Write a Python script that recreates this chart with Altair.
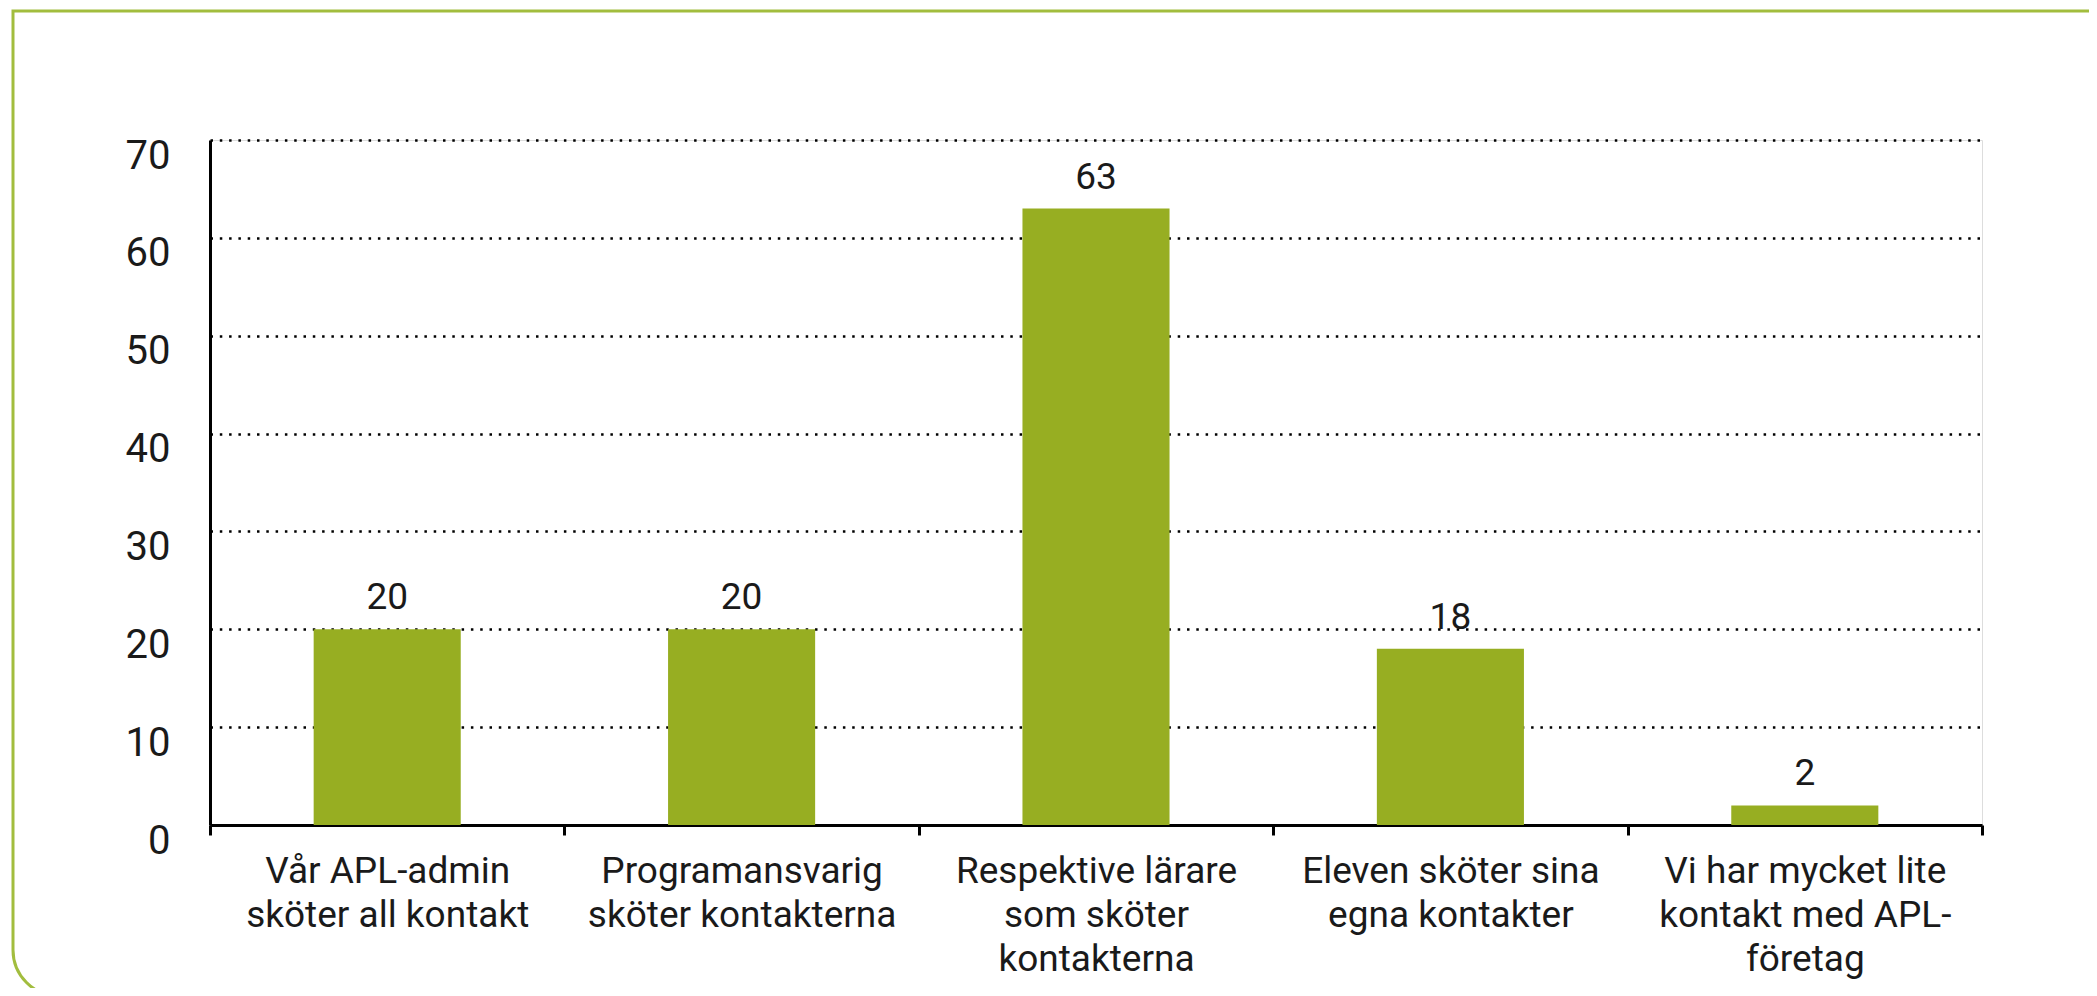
import altair as alt
import pandas as pd

categories = [
    "Vår APL-admin|sköter all kontakt",
    "Programansvarig|sköter kontakterna",
    "Respektive lärare|som sköter|kontakterna",
    "Eleven sköter sina|egna kontakter",
    "Vi har mycket lite|kontakt med APL-|företag",
]
values = [20, 20, 63, 18, 2]
y_ticks = [0, 10, 20, 30, 40, 50, 60, 70]

df = pd.DataFrame({"cat": categories, "val": values})

FONT = "Roboto"
TEXT = "#1a1a1a"
BAR = "#97AE22"
FRAME = "#A2BD3E"

W, H = 1772, 685

frame = alt.Chart(pd.DataFrame({"a": [0]})).mark_rect(
    fill=None, fillOpacity=0, stroke=FRAME, strokeWidth=3, cornerRadiusBottomLeft=46
).encode(
    x=alt.value(-197), x2=alt.value(W + 200),
    y=alt.value(-129), y2=alt.value(856),
)

base = alt.Chart(df).encode(
    x=alt.X(
        "cat:N", sort=None, title=None,
        scale=alt.Scale(paddingInner=0, paddingOuter=0),
        axis=alt.Axis(
            tickBand="extent", labelAngle=0,
            labelExpr="split(datum.label, '|')",
            labelFont=FONT, labelFontSize=37, labelColor=TEXT, labelLimit=0,
            labelLineHeight=44, labelPadding=18, labelBaseline="top",
            domainColor="black", domainWidth=3,
            tickColor="black", tickWidth=3, tickSize=10,
            grid=False,
        ),
    ),
    y=alt.Y(
        "val:Q", title=None,
        scale=alt.Scale(domain=[0, 70], nice=False),
        axis=alt.Axis(
            values=y_ticks, ticks=False, tickSize=0,
            labelFont=FONT, labelFontSize=40, labelColor=TEXT,
            labelPadding=40, labelBaseline="top", labelOffset=-4,
            domainColor="black", domainWidth=3,
            grid=True, gridColor="black", gridWidth=2.5, gridDash=[2.5, 6.8],
        ),
    ),
)

bars = base.mark_bar(color=BAR, width=alt.RelativeBandSize(0.415))
labels = base.mark_text(
    dy=-20, baseline="alphabetic", font=FONT, fontSize=37, color=TEXT
).encode(text=alt.Text("val:Q"))

chart = alt.layer(frame, bars, labels).properties(
    width=W, height=H,
    autosize=alt.AutoSizeParams(type="none"),
    padding={"left": 202, "top": 132, "right": 107, "bottom": 163},
).configure_view(stroke=None).configure(background="white")

chart.save("out.html", embed_options={"renderer": "svg", "actions": False})
